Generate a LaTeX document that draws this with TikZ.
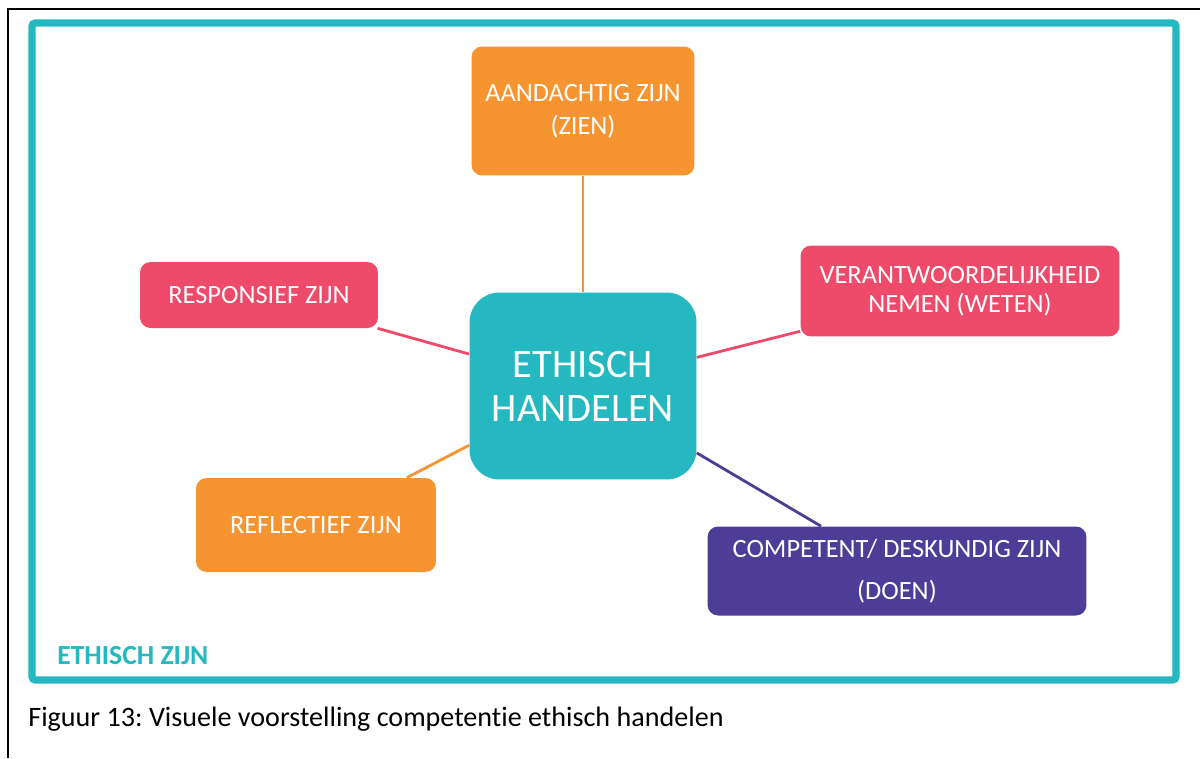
\documentclass[tikz,border=0pt]{standalone}
\usepackage{fontspec}
\setmainfont{Carlito}[Ligatures={NoCommon}]
\usepackage{tikz}
\definecolor{ETeal}{RGB}{37,184,192}
\definecolor{EOrange}{RGB}{247,148,50}
\definecolor{EPink}{RGB}{238,75,106}
\definecolor{EPurple}{RGB}{78,61,151}
\frenchspacing

\begin{document}
\begin{tikzpicture}[x=0.02cm, y=-0.02cm,
    box/.style={rounded corners=6pt, text=white, align=center, inner sep=0pt,
      font=\fontsize{15}{19}\selectfont},
    spoke/.style={line width=1.6pt}]
  \useasboundingbox (0,0) rectangle (1200,758);

  % page rules and frame
  \draw[line width=1.2pt] (1200,9) -- (8,9) -- (8,758);
  \draw[ETeal, line width=4.2pt, rounded corners=2pt] (32,23) rectangle (1176,680);

  % centre
  \node[box, fill=ETeal, rounded corners=17pt, minimum width=4.54cm, minimum height=3.74cm,
        font=\fontsize{23}{25}\selectfont] (ethisch) at (583,386) {ETHISCH\\HANDELEN};

  % outer boxes
  \node[box, fill=EOrange, minimum width=4.46cm, minimum height=2.58cm,
        font=\fontsize{15}{19}\selectfont] (aandacht) at (583,111) {AANDACHTIG ZIJN\\(ZIEN)};
  \node[box, fill=EPink, minimum width=4.76cm, minimum height=1.32cm] (responsief) at (259,295) {RESPONSIEF ZIJN};
  \node[box, fill=EPink, minimum width=6.38cm, minimum height=1.82cm,
        font=\fontsize{15}{16.5}\selectfont] (verantw) at (960,291) {VERANTWOORDELIJKHEID\\NEMEN (WETEN)};
  \node[box, fill=EOrange, minimum width=4.8cm, minimum height=1.88cm] (reflectief) at (316,525) {REFLECTIEF ZIJN};
  \node[box, fill=EPurple, minimum width=7.58cm, minimum height=1.78cm,
        font=\fontsize{15}{24}\selectfont] (competent) at (897,571) {COMPETENT/ DESKUNDIG ZIJN\\(DOEN)};

  % spokes
  \draw[spoke, EOrange] (aandacht) -- (ethisch);
  \draw[spoke, EPink] (responsief) -- (ethisch);
  \draw[spoke, EPink] (verantw) -- (ethisch);
  \draw[spoke, EOrange] (reflectief) -- (ethisch);
  \draw[spoke, EPurple] (competent) -- (ethisch);

  % labels
  \node[anchor=base west, inner sep=0pt, text=ETeal, font=\fontsize{15.7}{18}\selectfont\bfseries]
    (zijn) at (57,664) {ETHISCH ZIJN};
  \node[anchor=base west, inner sep=0pt, font=\fontsize{16}{19}\selectfont]
    (caption) at (28,726) {Figuur 13: Visuele voorstelling competentie ethisch handelen};
\end{tikzpicture}
\end{document}
